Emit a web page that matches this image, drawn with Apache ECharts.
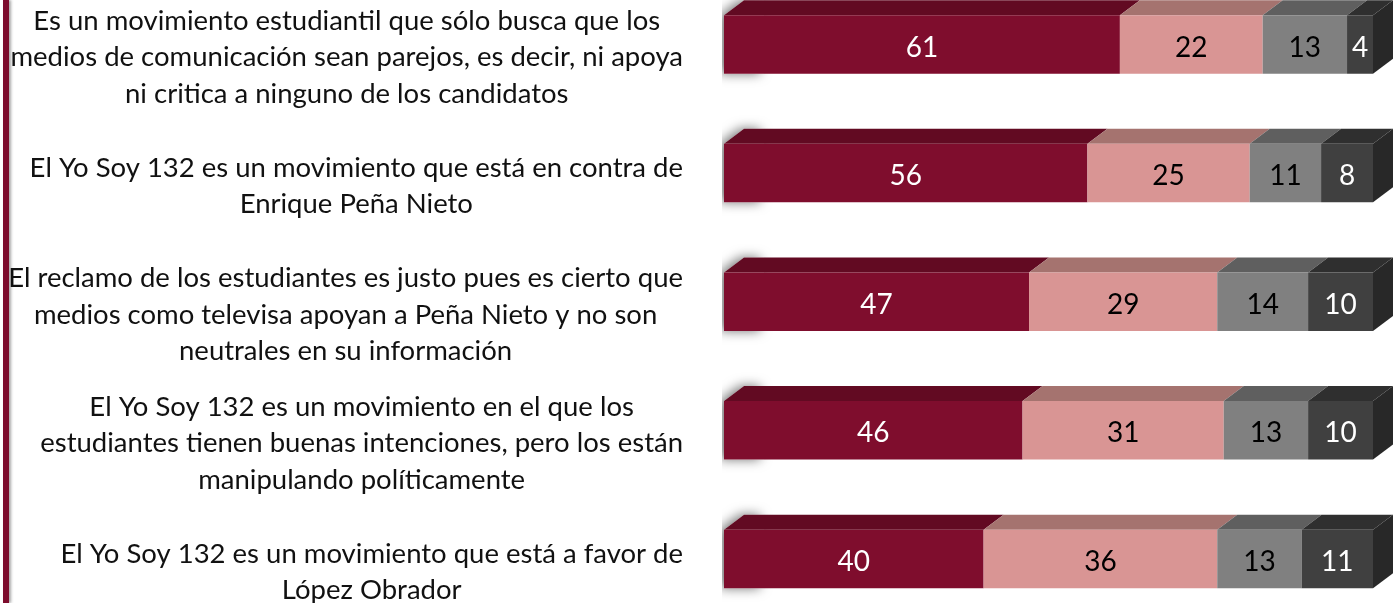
<!DOCTYPE html>
<html>
<head>
<meta charset="utf-8">
<script src="https://cdn.jsdelivr.net/npm/echarts@6/dist/echarts.min.js"></script>
<style>
html,body{margin:0;padding:0;background:#fff;}
#chart{width:1397px;height:603px;}
</style>
</head>
<body>
<div id="chart"></div>
<script>
// ---- data ----
const categories = [
  "Es un movimiento estudiantil que sólo busca que los\nmedios de comunicación sean parejos, es decir, ni apoya\nni critica a ninguno de los candidatos",
  "El Yo Soy 132 es un movimiento que está en contra de\nEnrique Peña Nieto",
  "El reclamo de los estudiantes es justo pues es cierto que\nmedios como televisa apoyan a Peña Nieto y no son\nneutrales en su información",
  "El Yo Soy 132 es un movimiento en el que los\nestudiantes tienen buenas intenciones, pero los están\nmanipulando políticamente",
  "El Yo Soy 132 es un movimiento que está a favor de\nLópez Obrador"
];
const seriesNames = ["Serie 1", "Serie 2", "Serie 3", "Serie 4"];
const serie1 = [61, 56, 47, 46, 40];
const serie2 = [22, 25, 29, 31, 36];
const serie3 = [13, 11, 14, 13, 13];
const serie4 = [4, 8, 10, 10, 11];

// ---- styles ----
const FRONT = ["#7F0D2D", "#D99594", "#808080", "#404040"];
const TOPC  = ["#620A22", "#A5736F", "#5F5F5F", "#2F2F2F"];
const SIDE  = "#282828";
const TXT   = ["#ffffff", "#000000", "#000000", "#ffffff"];
const DX = 20, DY = 15, BAR_RATIO = 0.455;
const UNIT = 6.49; // px per percent
const XMIN = -2 / UNIT, XMAX = 100 + 20 / UNIT;

const allSeries = [serie1, serie2, serie3, serie4];
const chart = echarts.init(document.getElementById('chart'), null, {renderer: 'canvas'});

function segData(si) {
  return categories.map((c, ci) => {
    let start = 0;
    for (let k = 0; k < si; k++) start += allSeries[k][ci];
    const v = allSeries[si][ci];
    return [ci, start, start + v, v];
  });
}

function makeRender(si) {
  const last = si === allSeries.length - 1;
  return function (params, api) {
    const ci = api.value(0);
    const p0 = api.coord([api.value(1), ci]);
    const p1 = api.coord([api.value(2), ci]);
    const h = api.size([0, 1])[1] * BAR_RATIO;
    const x0 = p0[0], x1 = p1[0];
    const top = p0[1] - h / 2, bot = p0[1] + h / 2;
    const children = [
      {type: 'polygon', shape: {points: [[x0, top], [x1, top], [x1 + DX, top - DY], [x0 + DX, top - DY]]},
       style: {fill: TOPC[si]}},
      {type: 'rect', shape: {x: x0, y: top, width: x1 - x0, height: h}, style: {fill: FRONT[si]}}
    ];
    if (last) {
      children.push({type: 'polygon', shape: {points: [[x1, top], [x1 + DX, top - DY], [x1 + DX, bot - DY], [x1, bot]]},
        style: {fill: SIDE}});
    }
    children.push({type: 'text', style: {text: String(api.value(3)), x: (x0 + x1) / 2, y: p0[1] + 3,
      align: 'center', verticalAlign: 'middle', fill: TXT[si], font: '28px Lato'}});
    return {type: 'group', children: children};
  };
}

function renderShadow(params, api) {
  const ci = api.value(0);
  const p0 = api.coord([0, ci]);
  const h = api.size([0, 1])[1] * BAR_RATIO;
  const x0 = p0[0];
  const top = p0[1] - h / 2, bot = p0[1] + h / 2;
  return {type: 'polygon', shape: {points: [[x0, bot], [x0, top], [x0 + DX, top - DY], [x0 + 40, top - DY], [x0 + 40, bot]]},
    style: {fill: '#ffffff', shadowBlur: 12, shadowOffsetX: -4, shadowOffsetY: 0, shadowColor: 'rgba(0,0,0,0.55)'}};
}

const series = [{
  type: 'custom', name: 'sombra', renderItem: renderShadow, clip: true, silent: true, z: 1,
  encode: {x: [1], y: 0}, data: categories.map((c, ci) => [ci, 0])
}];
allSeries.forEach((s, si) => {
  series.push({
    type: 'custom', name: seriesNames[si], renderItem: makeRender(si), clip: false, z: 2 + si,
    encode: {x: [1, 2], y: 0}, data: segData(si)
  });
});

chart.setOption({
  animation: false,
  backgroundColor: '#ffffff',
  grid: {left: 722, right: 4, top: -19.8, height: 643, containLabel: false, outerBoundsMode: 'none'},
  xAxis: {type: 'value', min: XMIN, max: XMAX, show: false},
  yAxis: {
    type: 'category', data: categories, inverse: true,
    axisLine: {show: false}, axisTick: {show: false}, splitLine: {show: false},
    axisLabel: {
      margin: 39, align: 'right', color: '#111111',
      padding: [26, 0, 0, 0],
      formatter: function (v) { return '{a|' + v + '}'; },
      rich: {a: {align: 'center', fontFamily: 'Lato', fontSize: 27.5, lineHeight: 36.5, color: '#111111'}}
    }
  },
  graphic: [
    {type: 'rect', left: 3, top: 0, shape: {width: 6, height: 603},
     style: {fill: '#7D0C2D', shadowBlur: 3, shadowOffsetX: 2, shadowColor: 'rgba(0,0,0,0.35)'}}
  ],
  series: series
});
</script>
</body>
</html>
